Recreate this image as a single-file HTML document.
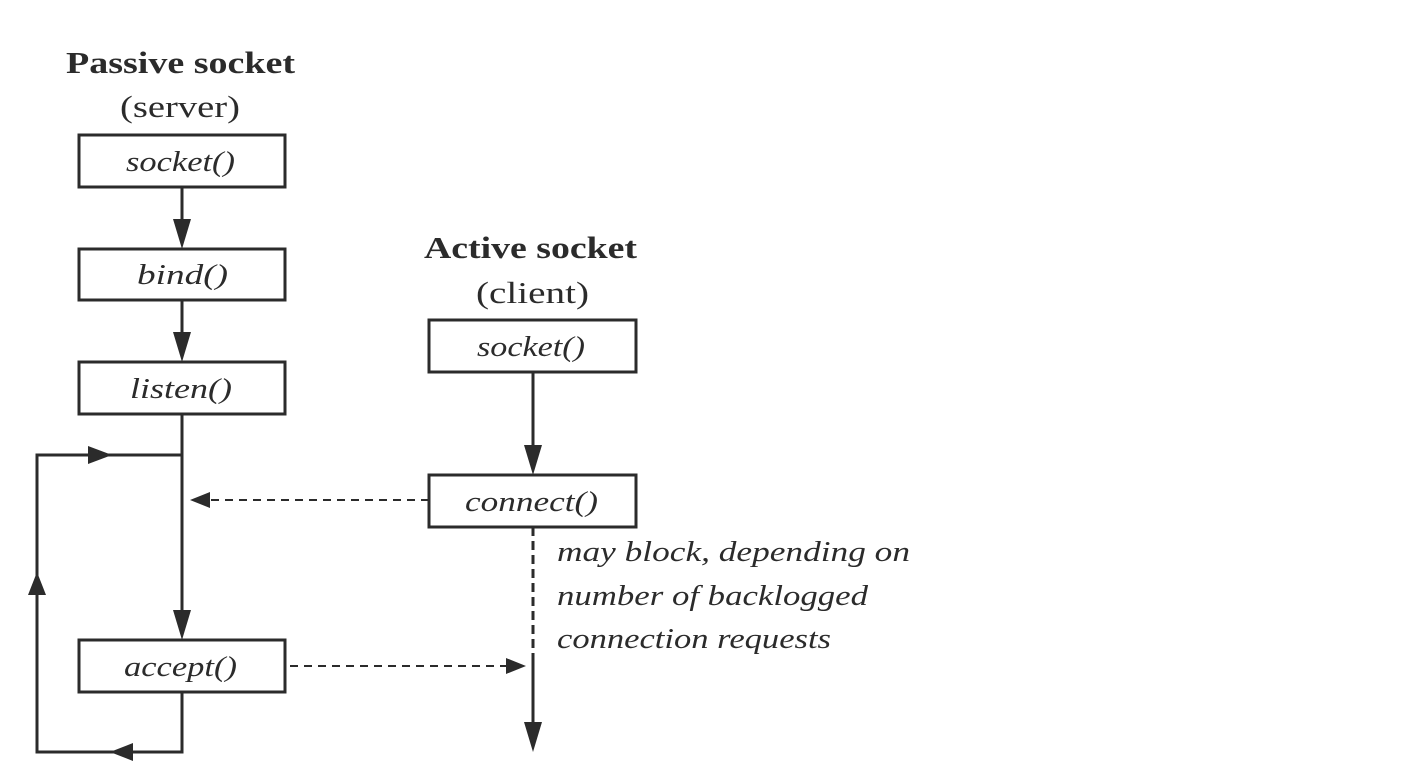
<!DOCTYPE html>
<html><head><style>body{margin:0;background:#fff}</style></head><body>
<svg width="1406" height="772" xmlns="http://www.w3.org/2000/svg" font-family="Liberation Serif, serif" fill="#2b2b2b">
<g stroke="#2b2b2b" stroke-width="3" fill="none">
<rect x="79" y="135" width="206" height="52"/>
<rect x="79" y="249" width="206" height="51"/>
<rect x="79" y="362" width="206" height="52"/>
<rect x="79" y="640" width="206" height="52"/>
<rect x="429" y="320" width="207" height="52"/>
<rect x="429" y="475" width="207" height="52"/>
<path d="M182 187 V225"/>
<path d="M182 300 V338"/>
<path d="M182 414 V620"/>
<path d="M182 692 V752 H37 V455 H182"/>
<path d="M533 372 V455"/>
<path d="M533 660 V735"/>
<path d="M533 527 V660" stroke-dasharray="9 5"/>
<path d="M429 500 H208" stroke-width="2" stroke-dasharray="8 6"/>
<path d="M290 666 H510" stroke-width="2" stroke-dasharray="8 6"/>
</g>
<g>
<path d="M173 219 L191 219 L182 249z"/>
<path d="M173 332 L191 332 L182 362z"/>
<path d="M173 610 L191 610 L182 640z"/>
<path d="M524 445 L542 445 L533 475z"/>
<path d="M524 722 L542 722 L533 752z"/>
<path d="M88 446 L112 455 L88 464z"/>
<path d="M28 595 L46 595 L37 572z"/>
<path d="M133 743 L110 752 L133 761z"/>
<path d="M190 500 L210 492 L210 508z"/>
<path d="M526 666 L506 658 L506 674z"/>
</g>
<g font-size="31" lengthAdjust="spacingAndGlyphs">
<text x="66" y="73" font-weight="bold" textLength="229" lengthAdjust="spacingAndGlyphs">Passive socket</text>
<text x="120" y="117" textLength="120" lengthAdjust="spacingAndGlyphs">(server)</text>
<text x="424" y="258" font-weight="bold" textLength="213" lengthAdjust="spacingAndGlyphs">Active socket</text>
<text x="476" y="303" textLength="113" lengthAdjust="spacingAndGlyphs">(client)</text>
</g>
<g font-size="29" font-style="italic">
<text x="126" y="171" textLength="109" lengthAdjust="spacingAndGlyphs">socket()</text>
<text x="137" y="284" textLength="91" lengthAdjust="spacingAndGlyphs">bind()</text>
<text x="130" y="398" textLength="102" lengthAdjust="spacingAndGlyphs">listen()</text>
<text x="124" y="676" textLength="113" lengthAdjust="spacingAndGlyphs">accept()</text>
<text x="477" y="356" textLength="108" lengthAdjust="spacingAndGlyphs">socket()</text>
<text x="465" y="511" textLength="133" lengthAdjust="spacingAndGlyphs">connect()</text>
<text x="557" y="561" textLength="353" lengthAdjust="spacingAndGlyphs">may block, depending on</text>
<text x="557" y="605" textLength="311" lengthAdjust="spacingAndGlyphs">number of backlogged</text>
<text x="557" y="648" textLength="274" lengthAdjust="spacingAndGlyphs">connection requests</text>
</g>
</svg>
</body></html>
